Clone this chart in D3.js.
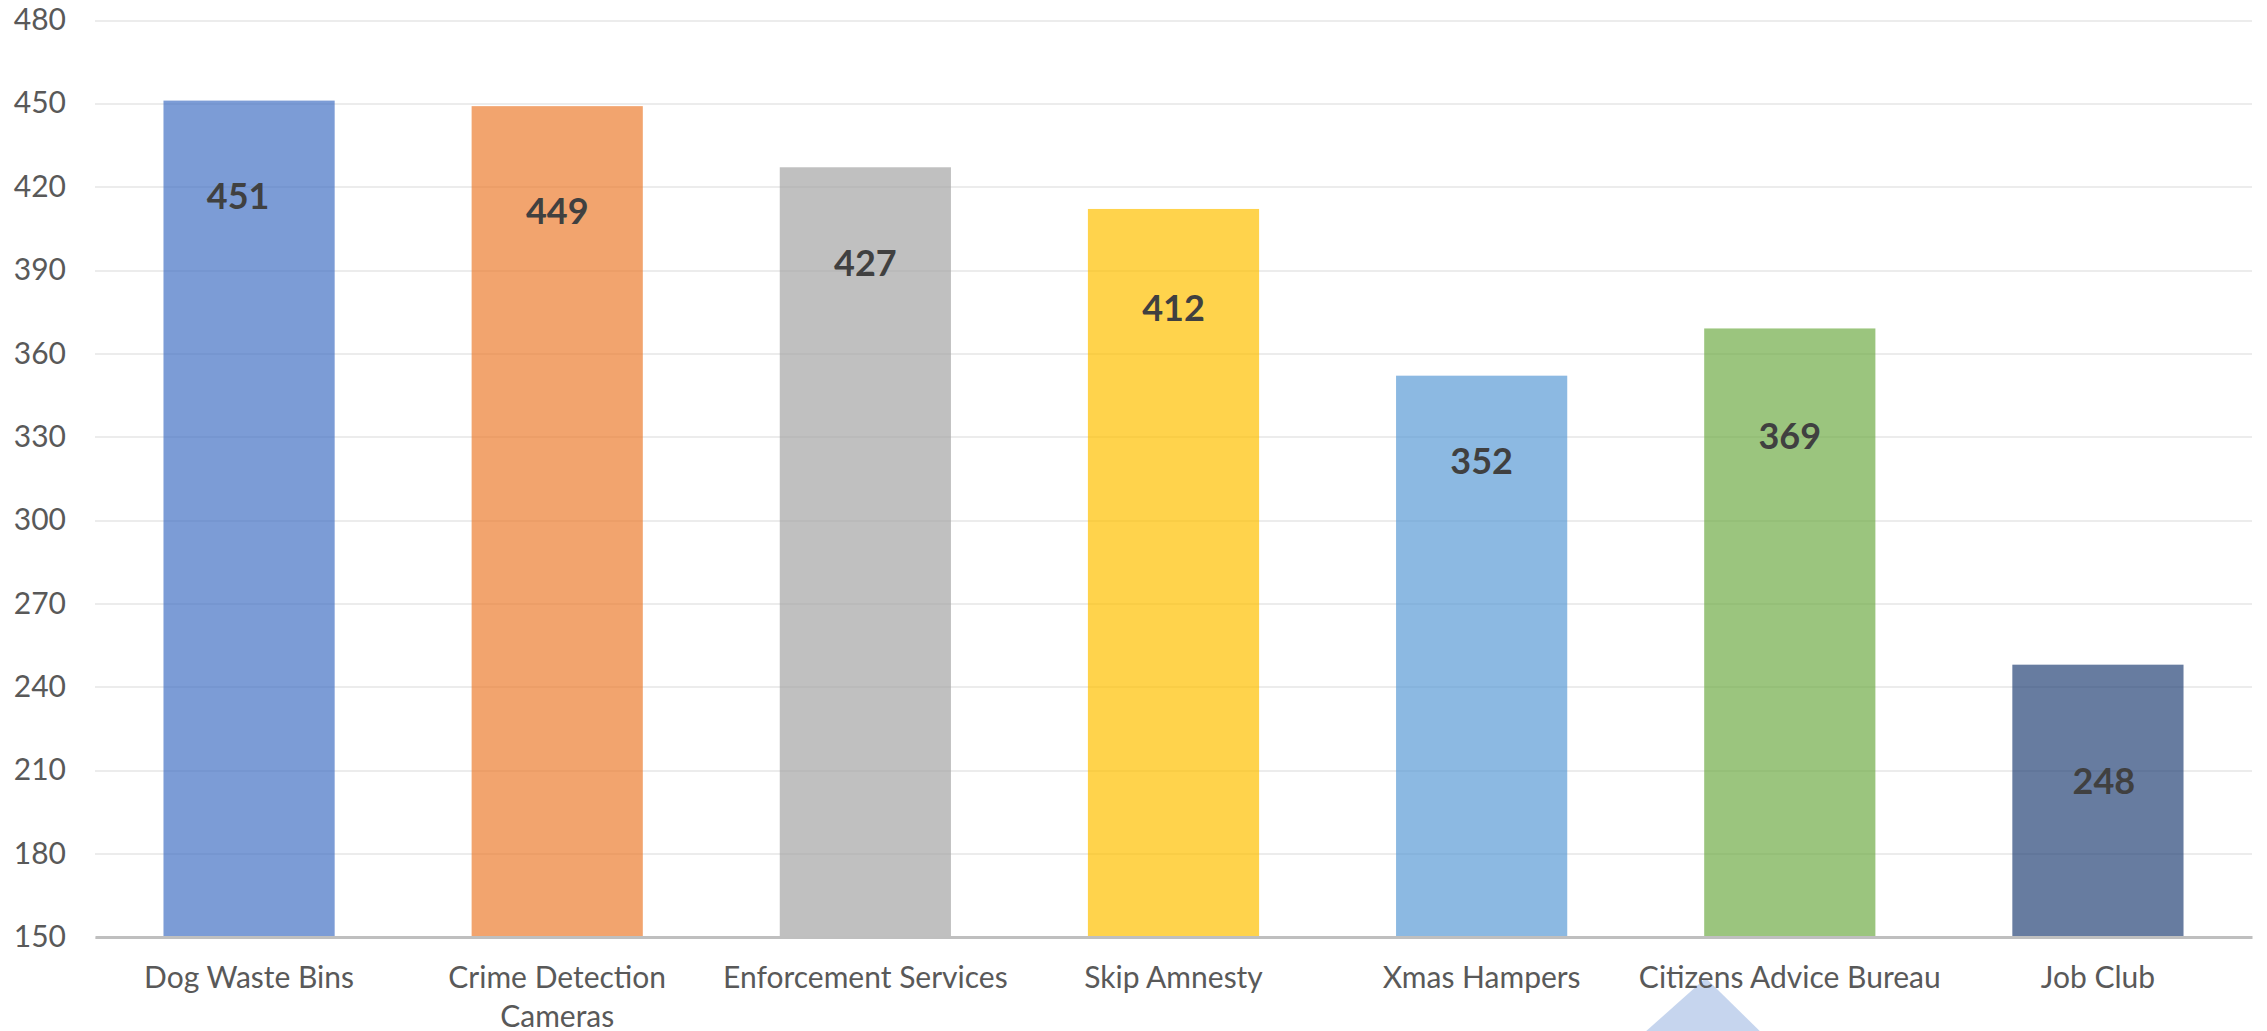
<!DOCTYPE html>
<html>
<head>
<meta charset="utf-8">
<script src="https://cdn.jsdelivr.net/npm/d3@7"></script>
<style>
  html, body { margin: 0; padding: 0; background: #ffffff; }
  svg { display: block; }
  .tick text { font-family: Lato, "Open Sans", sans-serif; }
</style>
</head>
<body>
<svg id="chart" width="2267" height="1031"></svg>
<script>
// Survey results per service
const categories = [
  "Dog Waste Bins",
  "Crime Detection Cameras",
  "Enforcement Services",
  "Skip Amnesty",
  "Xmas Hampers",
  "Citizens Advice Bureau",
  "Job Club"
];
const values = [451, 449, 427, 412, 352, 369, 248];

// Category labels as they wrap under the axis
const tickLabels = [
  ["Dog Waste Bins"],
  ["Crime Detection", "Cameras"],
  ["Enforcement Services"],
  ["Skip Amnesty"],
  ["Xmas Hampers"],
  ["Citizens Advice Bureau"],
  ["Job Club"]
];
const yTicks = [150, 180, 210, 240, 270, 300, 330, 360, 390, 420, 450, 480];

// Office palette, one colour per bar
const palette = ["#4472C4", "#ED7D31", "#A5A5A5", "#FFC000", "#5B9BD5", "#70AD47", "#264478"];

// Hand placement of each value label: [dx from bar centre, drop below bar top] in px
const labelNudge = [[-11, 96], [0, 105], [0, 96], [0, 99], [0, 86], [0, 108], [6, 117]];

const svg = d3.select("#chart");
const plot = { left: 95, right: 2252, top: 20, bottom: 937 };

const x = d3.scaleBand()
  .domain(categories)
  .range([plot.left, plot.right])
  .paddingInner(0.8 / 1.8)
  .paddingOuter(0.4 / 1.8);

const y = d3.scaleLinear()
  .domain([150, 480])
  .range([plot.bottom, plot.top]);

// Gridlines and y labels
const yAxis = svg.append("g")
  .attr("transform", `translate(${plot.left},0)`)
  .call(d3.axisLeft(y)
    .tickValues(yTicks)
    .tickSize(-(plot.right - plot.left))
    .tickPadding(29));
yAxis.select(".domain").remove();
yAxis.selectAll(".tick line")
  .attr("stroke", "#ECECEC")
  .attr("stroke-width", 2)
  .attr("shape-rendering", "crispEdges");
yAxis.selectAll(".tick text")
  .attr("fill", "#595959")
  .attr("font-size", 30);

// Bars
svg.append("g").selectAll("rect")
  .data(values)
  .join("rect")
  .attr("x", (d, i) => x(categories[i]))
  .attr("y", d => y(d))
  .attr("width", x.bandwidth())
  .attr("height", d => y(150) - y(d))
  .attr("fill", (d, i) => palette[i])
  .attr("fill-opacity", 0.7);

// Callout marker below the axis
const cx = x("Citizens Advice Bureau") + x.bandwidth() / 2;
svg.append("path")
  .attr("d", d3.line()([
    [cx - 84, 978],
    [cx - 148, 1035],
    [cx - 26, 1035]
  ]) + "Z")
  .attr("fill", "#C6D5EE");

// Baseline axis with category labels
const xAxis = svg.append("g")
  .attr("transform", `translate(0,${plot.bottom})`)
  .call(d3.axisBottom(x).tickSize(0).tickPadding(0));
xAxis.select(".domain")
  .attr("stroke", "#BFBFBF")
  .attr("stroke-width", 3);
xAxis.selectAll(".tick text").remove();

xAxis.selectAll(".tick").each(function(d, i) {
  const t = d3.select(this).append("text")
    .attr("fill", "#595959")
    .attr("font-size", 30)
    .attr("text-anchor", "middle")
    .attr("y", 40);
  tickLabels[i].forEach((line, k) => {
    t.append("tspan")
      .attr("x", 0)
      .attr("dy", k === 0 ? "0.35em" : 39)
      .text(line);
  });
});

// Value labels
svg.append("g").selectAll("text")
  .data(values)
  .join("text")
  .attr("x", (d, i) => x(categories[i]) + x.bandwidth() / 2 + labelNudge[i][0])
  .attr("y", (d, i) => y(d) + labelNudge[i][1])
  .attr("dy", "0.35em")
  .attr("text-anchor", "middle")
  .attr("font-family", "Lato, 'Open Sans', sans-serif")
  .attr("font-weight", 700)
  .attr("font-size", 36)
  .attr("fill", "#404040")
  .text(d => d);
</script>
</body>
</html>
